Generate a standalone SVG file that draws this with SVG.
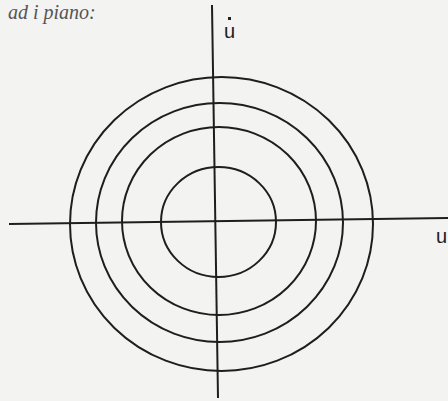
<svg xmlns="http://www.w3.org/2000/svg" width="448" height="401" viewBox="0 0 448 401">
<style>
.ax{stroke:#1e1e1e;stroke-width:2;fill:none}
.orb{stroke:#1e1e1e;stroke-width:2;fill:none}
.lbl{font-family:"Liberation Sans","DejaVu Sans",sans-serif;font-size:20px;fill:#222}
.hand{font-family:"Liberation Serif",serif;font-style:italic;font-size:20px;fill:#555}
</style>
<rect width="448" height="401" fill="#f3f3f1"/>
<text class="hand" x="8" y="19">ad i piano:</text>
<g id="connectors">
<line class="ax" x1="9" y1="224" x2="448" y2="218"/>
<line class="ax" x1="212" y1="5" x2="218" y2="398"/>
</g>
<g id="orbit1"><ellipse class="orb" cx="218.5" cy="222" rx="57.5" ry="55"/></g>
<g id="orbit2"><ellipse class="orb" cx="219" cy="221" rx="97" ry="94"/></g>
<g id="orbit3"><ellipse class="orb" cx="219.5" cy="222.5" rx="123.5" ry="119.5"/></g>
<g id="orbit4"><ellipse class="orb" cx="221.5" cy="224" rx="151.5" ry="147"/></g>
<g id="label-udot"><text class="lbl" x="224" y="38">u</text><rect x="228" y="17" width="3" height="3" fill="#222"/></g>
<g id="label-u"><text class="lbl" x="436" y="243">u</text></g>
</svg>
